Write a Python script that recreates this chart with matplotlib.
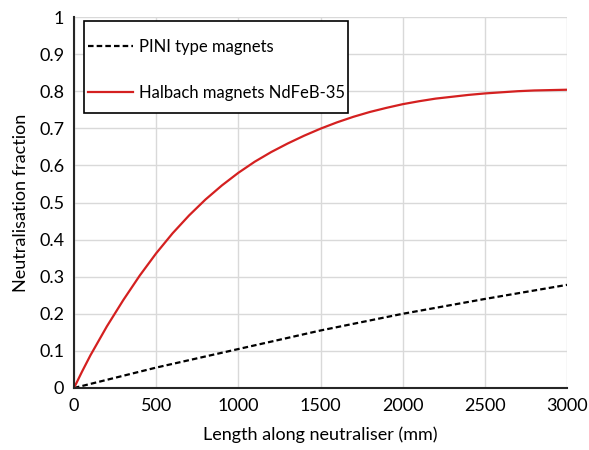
import numpy as np
import matplotlib
matplotlib.use('Agg')
import matplotlib.pyplot as plt
from matplotlib.patches import Rectangle

# values
length_mm = [0, 50, 100, 150, 200, 300, 400, 500, 600, 700, 800, 900, 1000, 1100, 1200,
             1300, 1400, 1500, 1600, 1700, 1800, 1900, 2000, 2100, 2200, 2300, 2400,
             2500, 2600, 2700, 2800, 2900, 3000]
halbach = [0.0, 0.045, 0.088, 0.127, 0.166, 0.237, 0.303, 0.363, 0.417, 0.465, 0.508,
           0.546, 0.580, 0.610, 0.636, 0.659, 0.680, 0.699, 0.716, 0.731, 0.744, 0.755,
           0.765, 0.773, 0.780, 0.785, 0.790, 0.794, 0.797, 0.800, 0.802, 0.803, 0.804]
pini_len = [0, 500, 1000, 1500, 2000, 2500, 3000]
pini = [0.0, 0.055, 0.105, 0.155, 0.20, 0.24, 0.278]

plt.rcParams['font.family'] = ['Lato', 'DejaVu Sans']

fig = plt.figure(figsize=(5.89, 4.5), dpi=100)
ax = fig.add_axes([0.1256, 0.1378, 0.8371, 0.8244])

ax.plot(pini_len, pini, '--', color='black', lw=1.6, dashes=(2.5, 1.4), label='PINI type magnets')
ax.plot(length_mm, halbach, '-', color='#d42020', lw=1.6, label='Halbach magnets NdFeB-35')

ax.set_xlim(0, 3000)
ax.set_ylim(0, 1)
ax.set_xticks(np.arange(0, 3001, 500))
ax.set_yticks(np.arange(0, 1.01, 0.1))
ax.set_yticklabels(['0', '0.1', '0.2', '0.3', '0.4', '0.5', '0.6', '0.7', '0.8', '0.9', '1'])
ax.grid(True, color='#d9d9d9', lw=1.0)
ax.set_axisbelow(True)
for s in ['top', 'right']:
    ax.spines[s].set_visible(False)
for s in ['left', 'bottom']:
    ax.spines[s].set_linewidth(1.5)
    ax.spines[s].set_color('#262626')
ax.tick_params(length=0, labelsize=13, pad=7)

ax.set_xlabel('Length along neutraliser (mm)', fontsize=13, labelpad=9)
ax.set_ylabel('Neutralisation fraction', fontsize=13, labelpad=7)

# legend box drawn separately so its size can match the original
box = Rectangle((0.0203, 0.741), 0.5355, 0.248, transform=ax.transAxes,
                facecolor='white', edgecolor='black', lw=1.2, zorder=4)
ax.add_patch(box)
leg = ax.legend(loc='upper left', bbox_to_anchor=(0.028, 0.94), frameon=False,
                labelspacing=1.8, handlelength=2.7, handletextpad=0.4,
                borderpad=0, borderaxespad=0, fontsize=12)
leg.set_zorder(5)

fig.savefig('out.png', dpi=100)
